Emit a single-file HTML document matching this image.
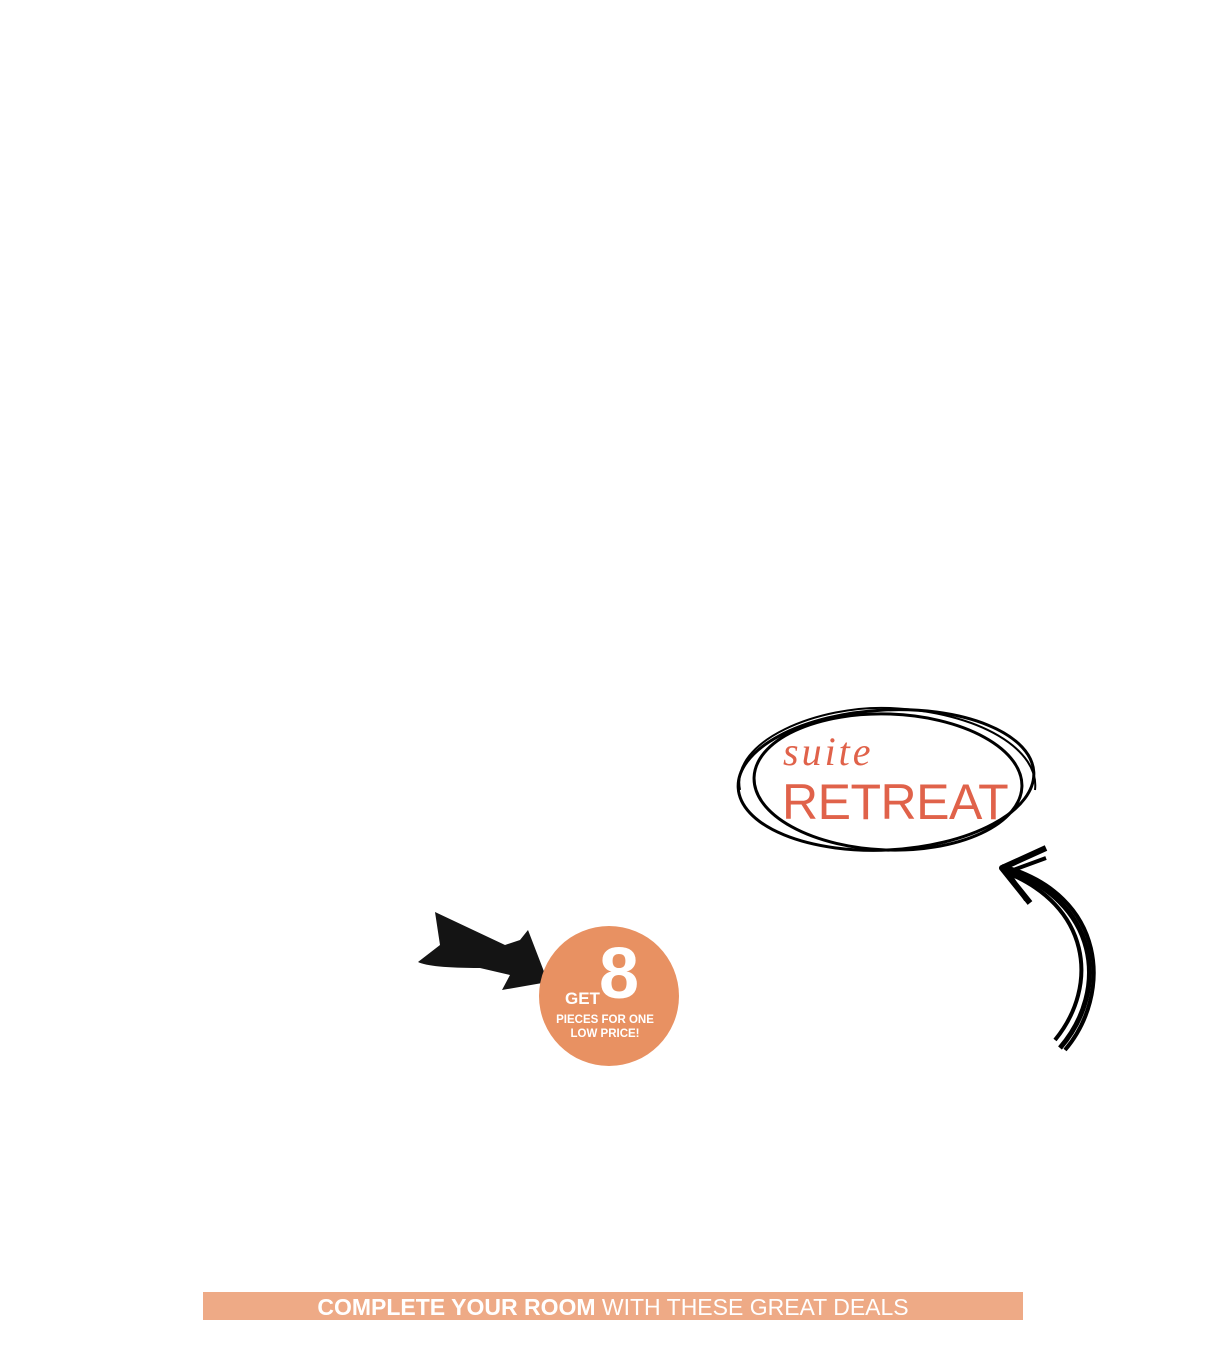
<!DOCTYPE html>
<html><head><style>
body{margin:0;width:1229px;height:1356px;background:#fff;position:relative;overflow:hidden;font-family:"Liberation Sans",sans-serif}
.a{position:absolute}
</style></head><body>
<svg class="a" style="left:0;top:0" width="1229" height="1356">
<g fill="none" stroke="#000" stroke-width="3">
<ellipse cx="886" cy="780" rx="148" ry="70" transform="rotate(-3 886 780)"/>
<ellipse cx="888" cy="782" rx="134" ry="68" transform="rotate(2 888 782)"/>
<path d="M740 790 C730 740 820 705 890 708 C980 712 1040 750 1035 790" stroke-width="2"/>
<path d="M1060 1048 C1110 990 1100 900 1002 868" stroke-width="5"/>
<path d="M1055 1040 C1100 985 1090 905 1005 872" stroke-width="4"/>
<path d="M1065 1050 C1112 995 1108 895 1002 866" stroke-width="4"/>
<path d="M1046 848 L1002 868 L1030 903" stroke-width="6" stroke-linejoin="round"/>
<path d="M1046 858 L1008 872 L1026 900" stroke-width="4"/>
</g>
<path d="M418 962 L440 945 L435 912 L505 945 L520 940 L528 930 L548 982 L502 990 L510 975 L480 968 Q430 968 418 962 Z" fill="#141414"/>
<circle cx="609" cy="996" r="70" fill="#e89162"/>
<rect x="203" y="1292" width="820" height="28" fill="#eeaa86"/>
</svg>
<div class="a" style="left:783px;top:732px;color:#e0624a;font-family:'Liberation Serif',serif;font-style:italic;font-size:40px;line-height:40px;letter-spacing:3px">suite</div>
<div class="a" style="left:782px;top:776px;color:#e0624a;font-size:50px;line-height:52px;letter-spacing:-0.5px">RETREAT</div>
<div class="a" style="left:565px;top:990px;color:#fff;font-weight:bold;font-size:17px;line-height:18px">GET</div>
<div class="a" style="left:599px;top:938px;color:#fff;font-weight:bold;font-size:72px;line-height:72px">8</div>
<div class="a" style="left:539px;top:1013px;width:132px;text-align:center;color:#fff;font-weight:bold;font-size:11.5px;line-height:14px">PIECES FOR ONE<br>LOW PRICE!</div>
<div class="a" style="left:203px;top:1293px;width:820px;text-align:center;color:#fff;font-size:23px;line-height:28px;letter-spacing:0px"><b>COMPLETE YOUR ROOM</b> WITH THESE GREAT DEALS</div>
</body></html>
